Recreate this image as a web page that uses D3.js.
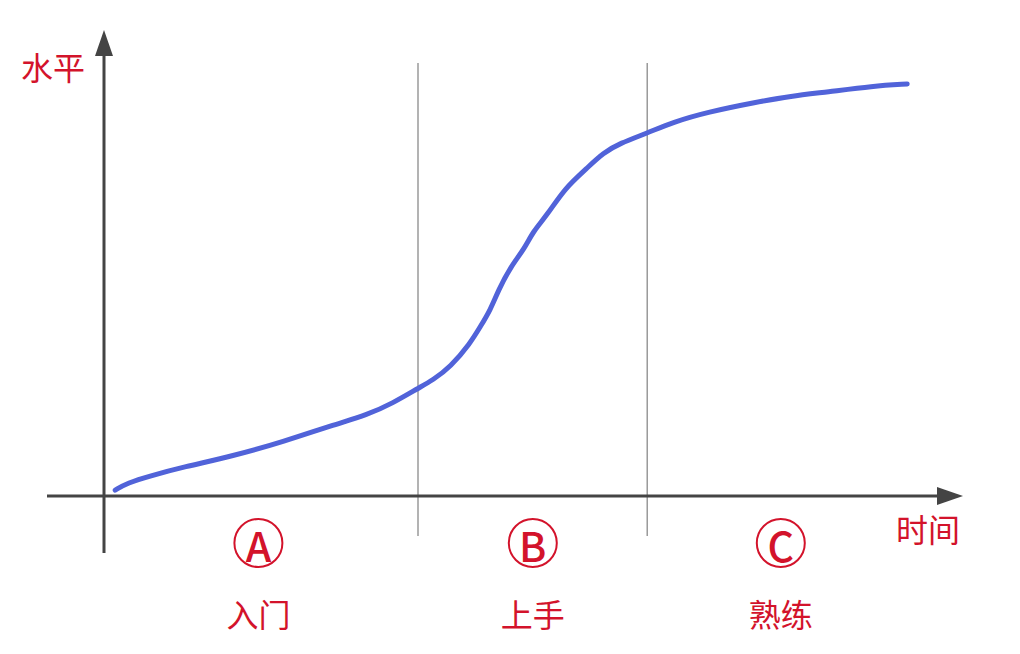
<!DOCTYPE html>
<html>
<head>
<meta charset="utf-8">
<script src="https://cdn.jsdelivr.net/npm/d3@7"></script>
<style>
  html, body { margin: 0; padding: 0; background: #fff; }
  svg { display: block; }
  text { font-family: "Noto Sans CJK SC", "Noto Sans", sans-serif; }
</style>
</head>
<body>
<svg id="chart" width="1020" height="654"></svg>
<script>
// ---- data ----
const curveX = [1.4, 2.9, 5.8, 9.9, 16.1, 22.4, 28.6, 32.9, 36.1, 39.3, 41.1, 43.3, 45.8, 47.0, 48.3, 49.3, 50.8, 52.6, 53.6, 55.4, 57.6, 60.4, 62.4, 64.5, 67.9, 71.1, 75.4, 81.6, 85.8, 90.4, 96.1, 100.4];
const curveY = [1.4, 3.1, 4.8, 6.9, 9.5, 12.9, 16.9, 19.3, 22.1, 25.7, 27.6, 30.7, 36.4, 40.2, 44.3, 49.0, 54.5, 59.0, 62.9, 66.9, 73.3, 78.1, 81.7, 84.0, 86.4, 89.0, 91.4, 93.8, 95.2, 96.2, 97.6, 98.1];
const boundaries = [39.25, 67.9];
const phaseCenters = [19.3, 53.6, 84.6];
const phaseLetters = ["A", "B", "C"];
const phaseNames = ["入门", "上手", "熟练"];
const yAxisLabel = "水平";
const xAxisLabel = "时间";

// ---- layout ----
const svg = d3.select("#chart");
const x = d3.scaleLinear().domain([0, 100]).range([104, 904]);
const y = d3.scaleLinear().domain([0, 100]).range([496, 76]);

const axisColor = "#444444";
const red = "#d3132b";

// phase boundary lines
svg.selectAll("line.bound").data(boundaries).enter().append("line")
  .attr("class", "bound")
  .attr("x1", d => x(d)).attr("x2", d => x(d))
  .attr("y1", 63).attr("y2", 536)
  .attr("stroke", "#8a8a8a").attr("stroke-width", 1.3);

// axes
const x0 = x(0), y0 = y(0);
svg.append("line").attr("x1", 47).attr("x2", 942).attr("y1", y0).attr("y2", y0)
  .attr("stroke", axisColor).attr("stroke-width", 3);
svg.append("line").attr("x1", x0).attr("x2", x0).attr("y1", 553).attr("y2", 50)
  .attr("stroke", axisColor).attr("stroke-width", 3);
// arrowheads
svg.append("path").attr("d", `M${x0},30 L${x0 - 9},56 L${x0 + 9},56 Z`).attr("fill", axisColor);
svg.append("path").attr("d", `M963,${y0} L937,${y0 - 9} L937,${y0 + 9} Z`).attr("fill", axisColor);

// curve
const pts = curveX.map((d, i) => [d, curveY[i]]);
const line = d3.line().x(d => x(d[0])).y(d => y(d[1])).curve(d3.curveBasis);
svg.append("path").datum(pts).attr("d", line)
  .attr("fill", "none").attr("stroke", "#5163d9").attr("stroke-width", 5)
  .attr("stroke-linecap", "round").attr("stroke-linejoin", "round");

// axis labels
svg.append("text").attr("x", 53).attr("y", 66).attr("text-anchor", "middle")
  .attr("dominant-baseline", "central").attr("font-size", 32).attr("fill", red).text(yAxisLabel);
svg.append("text").attr("x", 928).attr("y", 528).attr("text-anchor", "middle")
  .attr("dominant-baseline", "central").attr("font-size", 32).attr("fill", red).text(xAxisLabel);

// phase markers
const g = svg.selectAll("g.phase").data(phaseCenters).enter().append("g").attr("class", "phase");
g.append("circle").attr("cx", d => x(d)).attr("cy", 543).attr("r", 24)
  .attr("fill", "none").attr("stroke", red).attr("stroke-width", 2);
g.append("text").attr("x", d => x(d)).attr("y", 544).attr("text-anchor", "middle")
  .attr("dominant-baseline", "central").attr("font-size", 41).attr("font-weight", 500).attr("fill", red)
  .attr("font-family", "'Noto Sans', sans-serif")
  .text((d, i) => phaseLetters[i]);
g.append("text").attr("x", d => x(d)).attr("y", 613).attr("text-anchor", "middle")
  .attr("dominant-baseline", "central").attr("font-size", 32).attr("fill", red)
  .text((d, i) => phaseNames[i]);
</script>
</body>
</html>
